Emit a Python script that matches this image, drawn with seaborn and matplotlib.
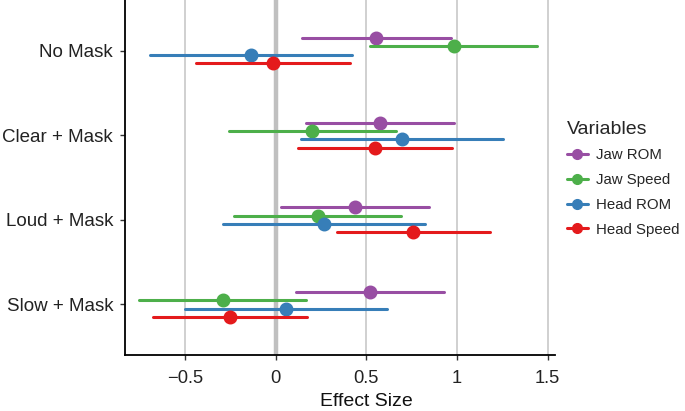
import numpy as np
import pandas as pd
import matplotlib
matplotlib.use("Agg")
import matplotlib.pyplot as plt
import seaborn as sns
from matplotlib.lines import Line2D

# conditions (top to bottom) and variables (hue order)
conditions = ["No Mask", "Clear + Mask", "Loud + Mask", "Slow + Mask"]
variables = ["Jaw ROM", "Jaw Speed", "Head ROM", "Head Speed"]
palette = ["#984EA3", "#4DAF4A", "#377EB8", "#E41A1C"]

# effect size estimates, one row per condition, one column per variable
estimate = [
    [0.555, 0.982, -0.137, -0.016],
    [0.577, 0.203, 0.696, 0.548],
    [0.440, 0.231, 0.266, 0.760],
    [0.522, -0.291, 0.057, -0.251],
]
lower = [
    [0.148, 0.522, -0.690, -0.436],
    [0.168, -0.255, 0.139, 0.126],
    [0.029, -0.229, -0.289, 0.339],
    [0.112, -0.751, -0.498, -0.674],
]
upper = [
    [0.967, 1.443, 0.420, 0.408],
    [0.985, 0.665, 1.251, 0.973],
    [0.848, 0.690, 0.822, 1.183],
    [0.930, 0.167, 0.614, 0.174],
]

# long table: lower/estimate/upper rows so median = estimate, full range = CI
rows = []
for i, cond in enumerate(conditions):
    for j, var in enumerate(variables):
        for v in (lower[i][j], estimate[i][j], upper[i][j]):
            rows.append({"Condition": cond, "Variable": var, "Effect": v})
df = pd.DataFrame(rows)

sns.set_theme(style="ticks")
plt.rcParams["font.family"] = ["Liberation Sans", "DejaVu Sans"]

fig = plt.figure(figsize=(6.85, 4.11), dpi=100)
ax = fig.add_axes([125 / 685, 56 / 411, 430 / 685, 355 / 411])

# reference grid
for x in [-0.5, 0.5, 1.0, 1.5]:
    ax.axvline(x, color="#C8C8C8", lw=1.2, zorder=0)
ax.axvline(0, color="#C0C0C0", lw=3.2, zorder=0)

sns.pointplot(
    data=df, x="Effect", y="Condition", hue="Variable",
    order=conditions, hue_order=variables, palette=palette,
    estimator="median", errorbar=("pi", 100),
    dodge=0.3, linestyle="none", markers="o",
    markersize=8, err_kws={"linewidth": 2.2},
    orient="h", ax=ax, legend=False,
)

ax.set_xlim(-0.83, 1.54)
ax.set_ylim(3.6, -0.6)
ax.set_xticks([-0.5, 0, 0.5, 1, 1.5])
ax.set_xticklabels(["\u22120.5", "0", "0.5", "1", "1.5"])
ax.set_xlabel("Effect Size", fontsize=14, color="#111111")
ax.xaxis.set_label_coords((366 - 125) / 430, -38 / 355)
ax.set_ylabel("")
ax.tick_params(axis="x", labelsize=13.2, pad=7)
ax.tick_params(axis="y", labelsize=13.5, pad=5)
ax.tick_params(axis="both", length=3.5, width=1, color="#333333",
               labelcolor="#222222")
for side in ["top", "right"]:
    ax.spines[side].set_visible(False)
for side in ["left", "bottom"]:
    ax.spines[side].set_linewidth(1.3)
    ax.spines[side].set_color("black")

handles = [
    Line2D([0], [0], color=c, marker="o", markersize=7, lw=2.2, label=v)
    for v, c in zip(variables, palette)
]
fig.legend(
    handles=handles, title="Variables", loc="upper left",
    bbox_to_anchor=(553 / 685, 1 - 107 / 411), frameon=False,
    fontsize=10.8, title_fontsize=14, handlelength=1.4, handletextpad=0.55,
    labelspacing=0.72, alignment="left",
)

fig.savefig("out.png", dpi=100)
